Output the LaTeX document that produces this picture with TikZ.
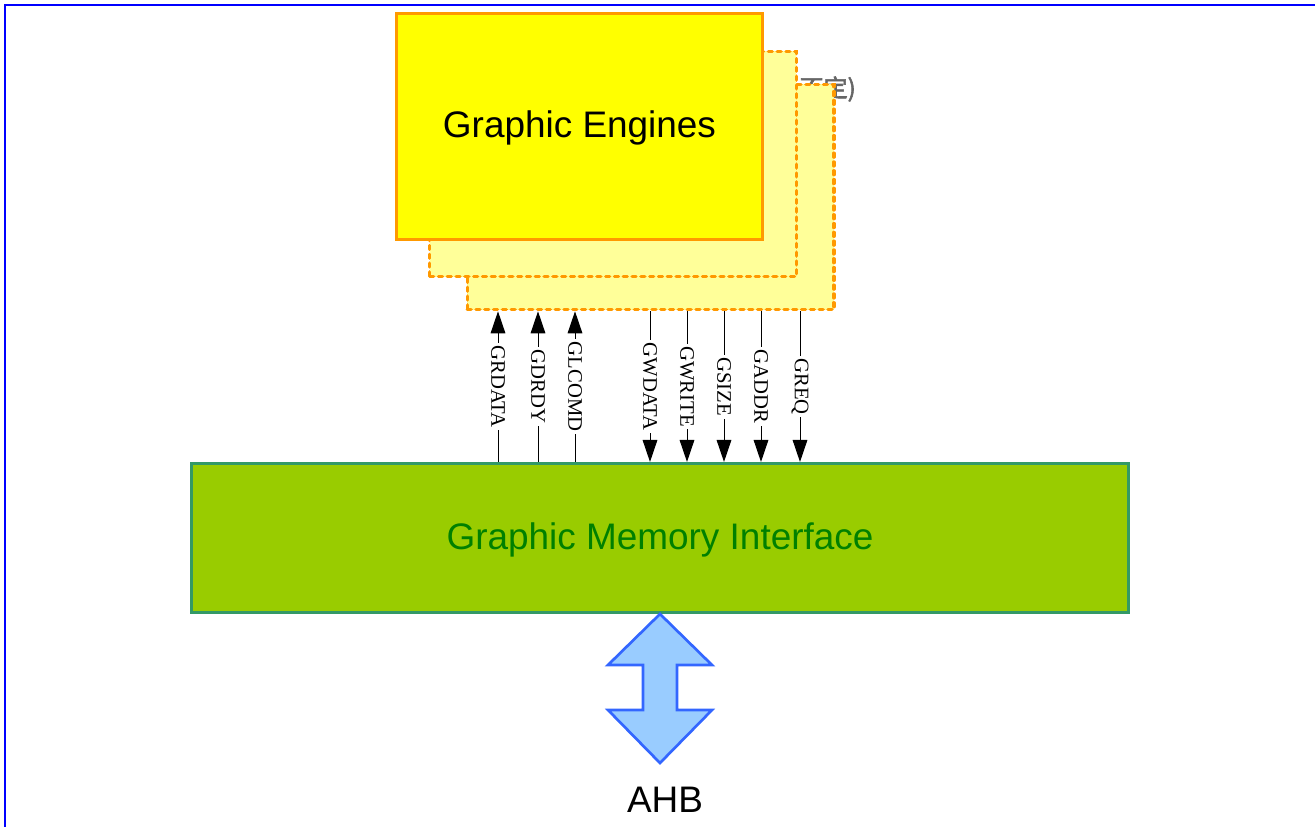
\documentclass[tikz,border=0pt]{standalone}
\usepackage{fontspec}
\setmainfont{Liberation Sans}
\newfontfamily\sigfont{Liberation Serif}
\newfontfamily\cjkfont[FakeBold=2.5]{Noto Sans CJK SC}
\usepackage{xcolor}
\usetikzlibrary{arrows.meta,positioning}
\definecolor{engfill}{HTML}{FFFF00}
\definecolor{engback}{HTML}{FFFF99}
\definecolor{engline}{HTML}{FF9900}
\definecolor{gmifill}{HTML}{99CC00}
\definecolor{gmiline}{HTML}{339966}
\definecolor{gmitext}{HTML}{008000}
\definecolor{ahbfill}{HTML}{99CCFF}
\definecolor{ahbline}{HTML}{3366FF}
\definecolor{noteg}{HTML}{666666}

\begin{document}
\begin{tikzpicture}[
  x=0.75pt, y=-0.75pt,
  engine/.style={draw=engline, fill=engfill, line width=2.1pt,
                 minimum width=275pt, minimum height=169pt,
                 text height=23pt, text depth=5.8pt,
                 font=\fontsize{27.7}{33}\selectfont},
  shadow/.style={engine, fill=engback, line width=2.5pt,
                 dash pattern=on 3pt off 3.6pt, line cap=round},
  gmibox/.style={draw=gmiline, fill=gmifill, line width=2.1pt,
                 minimum width=703pt, minimum height=112pt,
                 text height=23pt, text depth=5.8pt,
                 font=\fontsize{27.7}{33}\selectfont, text=gmitext},
  sig/.style={fill=white, inner sep=2pt, rotate=-90,
              font=\sigfont\fontsize{15.5}{17}\selectfont},
  wire/.style={line width=0.75pt, -{Triangle[length=16.5pt, width=11pt]}}
]
\useasboundingbox (0,0) rectangle (1315,827);
\draw[blue, line width=1.5pt] (1315,5) -- (5,5) -- (5,827);

% note partly hidden behind the engine stack
\node[anchor=east, text=noteg, inner sep=0pt,
      font=\cjkfont\fontsize{18}{20}\selectfont]
  (note) at (856,89) {(数量不定)};

% engine stack
\node[shadow] (eng3) at (650.5,197) {};
\node[shadow] (eng2) at (613,164) {};
\node[engine] (eng1) at (579.5,126.5) {Graphic Engines};

\node[gmibox] (gmi) at (660,538) {Graphic Memory Interface};

% signals
\foreach \x/\lab [count=\i] in {498/GRDATA, 538/GDRDY, 575/GLCOMD}{
  \coordinate (u\i) at (\x,0);
  \draw[wire] (gmi.north -| u\i) -- node[sig]{\lab} (eng3.south -| u\i);
}
\foreach \x/\lab [count=\i] in {650/GWDATA, 687/GWRITE, 724/GSIZE, 761/GADDR, 800/GREQ}{
  \coordinate (d\i) at (\x,0);
  \draw[wire] (eng3.south -| d\i) -- node[sig]{\lab} (gmi.north -| d\i);
}

% bus
\draw[draw=ahbline, fill=ahbfill, line width=2pt, line join=miter]
  (660,614) -- (712,665) -- (677,665) -- (677,710) -- (712,710) -- (660,763)
  -- (608,710) -- (643,710) -- (643,665) -- (608,665) -- cycle;
\node[font=\fontsize{27.7}{33}\selectfont] (ahb) at (665,800) {AHB};
\end{tikzpicture}
\end{document}
